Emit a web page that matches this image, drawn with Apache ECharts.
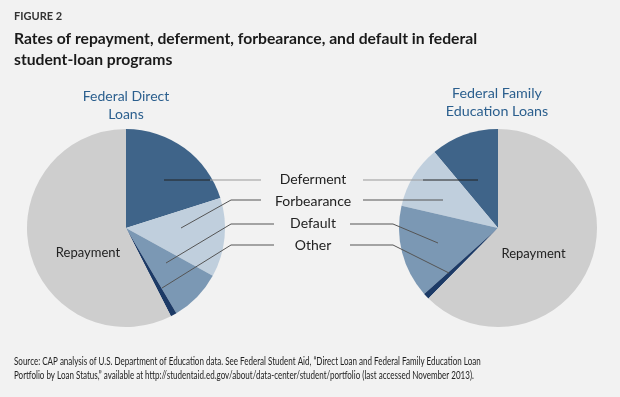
<!DOCTYPE html>
<html lang="en">

<head>
    <meta charset="UTF-8">
    <title>Student loan status</title>
    <script src="https://cdn.jsdelivr.net/npm/echarts@6/dist/echarts.min.js"></script>
    <style>
        body {
            margin: 0;
            background: #f2f2f2;
        }
    </style>
</head>

<body>
    <div id="main" style="width:620px;height:397px;"></div>
    <script>
        // loan status shares (percent)
        const categories = ['Deferment', 'Forbearance', 'Default', 'Other', 'Repayment'];
        const directLoans = [20.1, 12.9, 8.5, 1.0, 57.5];
        const ffelLoans = [11.1, 10.3, 15.2, 1.0, 62.4];
        const colors = ['#3f6489', '#c0cfdd', '#7b98b4', '#1c3a66', '#cecece'];

        const font = 'Lato, "Noto Sans", sans-serif';

        function buildData(values, offset) {
            return categories.map((name, i) => ({
                name: name,
                value: values[i],
                label: {
                    show: name === 'Repayment',
                    offset: offset
                }
            }));
        }

        function pieSeries(values, center, clockwise, offset) {
            return {
                type: 'pie',
                center: center,
                radius: 99,
                startAngle: 90,
                clockwise: clockwise,
                silent: true,
                label: {
                    position: 'inside',
                    color: '#222',
                    fontFamily: font,
                    fontSize: 13,
                    formatter: '{b}'
                },
                labelLine: { show: false },
                itemStyle: { borderWidth: 0 },
                data: buildData(values, offset)
            };
        }

        // leader lines between the two pies: [points, colour]
        const leaders = [
            [[[164, 180], [210, 180]], '#222'],
            [[[210, 180], [261, 180]], '#999'],
            [[[363, 180], [423, 180]], '#999'],
            [[[423, 180], [478, 180]], '#222'],
            [[[181, 228], [231, 200], [261, 200]], '#555'],
            [[[363, 200], [443, 200]], '#555'],
            [[[166, 263], [231, 224], [274, 224]], '#555'],
            [[[350, 224], [393, 224], [438, 243]], '#555'],
            [[[162, 288], [231, 245], [274, 245]], '#555'],
            [[[350, 245], [393, 245], [449, 273]], '#555']
        ];

        const midLabels = [['Deferment', 179], ['Forbearance', 201], ['Default', 223], ['Other', 245]];

        const graphic = [
            { type: 'text', left: 14, top: 11, style: { text: 'FIGURE 2', font: 'bold 11px ' + font, fill: '#333' } },
            { type: 'text', left: 14, top: 28, style: { text: 'Rates of repayment, deferment, forbearance, and default in federal\nstudent-loan programs', font: 'bold 15.7px ' + font, fill: '#1a1a1a', lineHeight: 21 } },
            { type: 'text', x: 126, y: 105, style: { text: 'Federal Direct\nLoans', font: '14px ' + font, fill: '#2b5f8e', align: 'center', verticalAlign: 'middle', lineHeight: 18 } },
            { type: 'text', x: 497, y: 102, style: { text: 'Federal Family\nEducation Loans', font: '14.3px ' + font, fill: '#2b5f8e', align: 'center', verticalAlign: 'middle', lineHeight: 18 } },
            { type: 'text', x: 14, y: 355, scaleX: 0.765, style: { text: 'Source: CAP analysis of U.S. Department of Education data. See Federal Student Aid, \u201cDirect Loan and Federal Family Education Loan\nPortfolio by Loan Status,\u201d available at http://studentaid.ed.gov/about/data-center/student/portfolio (last accessed November 2013).', font: '10.5px ' + font, fill: '#222', lineHeight: 13.5 } }
        ];
        leaders.forEach(([pts, c]) => {
            graphic.push({ type: 'polyline', z: 100, shape: { points: pts }, style: { stroke: c, lineWidth: 1 } });
        });
        midLabels.forEach(([t, y]) => {
            graphic.push({ type: 'text', x: 313, y: y, style: { text: t, font: '14px ' + font, fill: '#222', align: 'center', verticalAlign: 'middle' } });
        });

        const chart = echarts.init(document.getElementById('main'));
        chart.setOption({
            backgroundColor: '#f2f2f2',
            animation: false,
            color: colors,
            graphic: graphic,
            series: [
                pieSeries(directLoans, [126, 228], true, [13, 13]),
                pieSeries(ffelLoans, [498, 228], false, [-13, 6])
            ]
        });
    </script>
</body>

</html>
